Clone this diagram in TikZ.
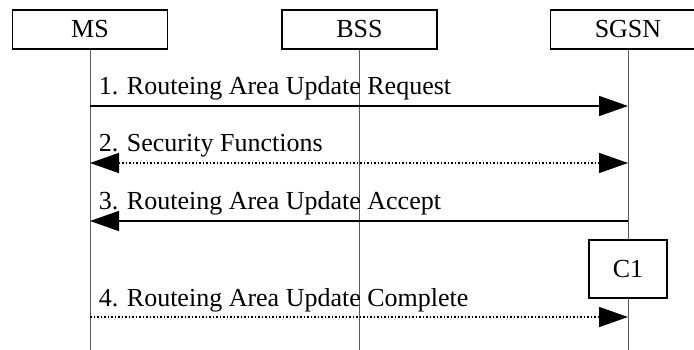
\documentclass[tikz,border=0pt]{standalone}
\usepackage{fontspec}
\setmainfont{Liberation Serif}
\usepackage{tikz}
\usetikzlibrary{positioning,calc,arrows.meta}

\begin{document}
\begin{tikzpicture}[x=1pt,y=-1pt,
    font=\fontsize{26}{30}\selectfont,
    entity/.style={draw,line width=1.5pt,fill=white,minimum width=155pt,minimum height=39pt,inner sep=0pt},
    lifeline/.style={line width=1pt,black!65},
    msg/.style={line width=1.6pt,-{Triangle[length=29pt,width=20pt]}},
    msgdot/.style={line width=1.5pt,dotted},
    msglabel/.style={anchor=base west,inner sep=0pt}]
    \useasboundingbox (0,0) rectangle (694,350);
    \clip (0,0) rectangle (694,350);

    % Entities at the top
    \node [entity] (ms) at (90,29.5) {MS};
    \node [entity] (bss) at (359.5,29.5) {BSS};
    \node [entity] (sgsn) at (628,29.5) {SGSN};

    % Lifelines down to the bottom
    \foreach \n in {ms,bss,sgsn} {
        \coordinate (\n-end) at (\n.south |- 0,350);
        \draw [lifeline] (\n.south) -- (\n-end);
    }

    % Message levels on MS and SGSN
    \foreach \i/\y in {1/106, 2/163, 3/221, 4/317} {
        \coordinate (ms-\i) at (ms.south |- 0,\y);
        \coordinate (sgsn-\i) at (sgsn.south |- 0,\y);
    }

    % Condition box on SGSN
    \node [entity, minimum width=78pt, minimum height=58pt] (c1) at (628,269) {C1};

    % Messages
    \draw [msg] (ms-1) -- (sgsn-1)
        node [msglabel, pos=0, xshift=8pt, yshift=11pt] {1. Routeing Area Update Request};
    \draw [msgdot, {Triangle[length=29pt,width=20pt]}-{Triangle[length=29pt,width=20pt]}] (ms-2) -- (sgsn-2)
        node [msglabel, pos=0, xshift=8pt, yshift=11pt] {2. Security Functions};
    \draw [msg] (sgsn-3) -- (ms-3)
        node [msglabel, pos=1, xshift=8pt, yshift=11pt] {3. Routeing Area Update Accept};
    \draw [msg, msgdot] (ms-4) -- (sgsn-4)
        node [msglabel, pos=0, xshift=8pt, yshift=11pt] {4. Routeing Area Update Complete};
\end{tikzpicture}
\end{document}
